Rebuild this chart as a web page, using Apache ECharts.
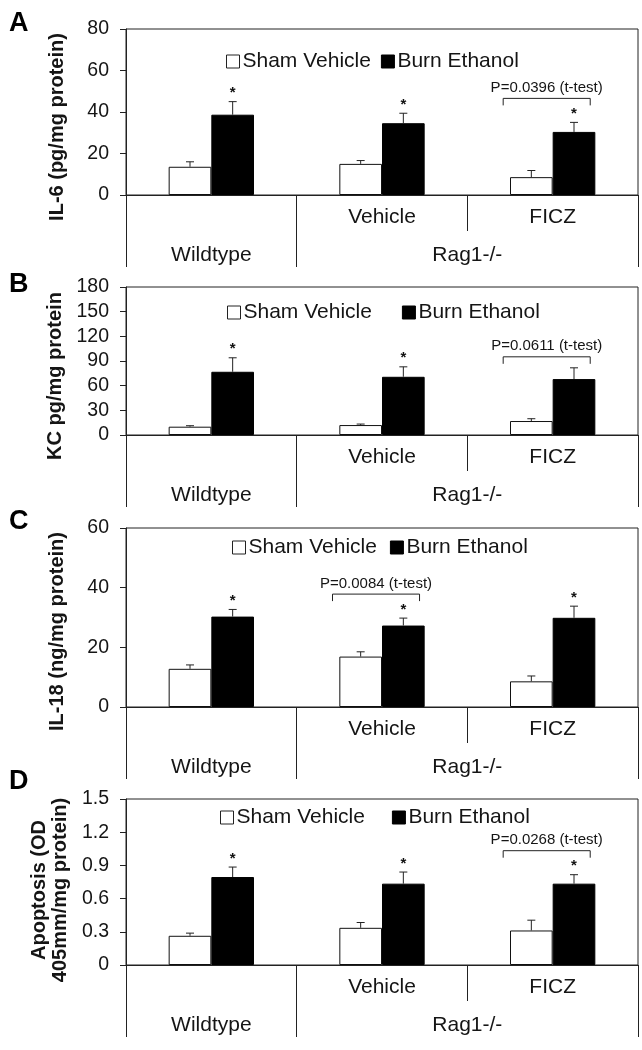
<!DOCTYPE html>
<html>
<head>
<meta charset="utf-8">
<script src="https://cdn.jsdelivr.net/npm/echarts@6/dist/echarts.min.js"></script>
<style>
html,body{margin:0;padding:0;background:#fff;}
#chart{width:642px;height:1050px;}
</style>
</head>
<body>
<div id="chart"></div>
<script>
// ---------- data ----------
const seriesNames = ['Sham Vehicle', 'Burn Ethanol'];
const level1Labels = ['', 'Vehicle', 'FICZ'];
const level2Labels = ['Wildtype', 'Rag1-/-'];
const level2Spans = [1, 2];

const panelLetters = ['A', 'B', 'C', 'D'];
const yNames = ['IL-6 (pg/mg protein)', 'KC pg/mg protein', 'IL-18 (ng/mg protein)', 'Apoptosis (OD\n405mm/mg protein)'];

const ticksA = [0, 20, 40, 60, 80];
const shamA = [13.6, 15.0, 8.6];
const shamErrA = [2.4, 1.6, 3.2];
const burnA = [38.7, 34.6, 30.4];
const burnErrA = [6.3, 4.8, 4.6];
const starsA = [1, 1, 1];
const bracketA = { group: 2, text: 'P=0.0396 (t-test)' };

const ticksB = [0, 30, 60, 90, 120, 150, 180];
const shamB = [10.1, 12.1, 17.0];
const shamErrB = [1.2, 1.2, 2.8];
const burnB = [76.9, 70.8, 68.0];
const burnErrB = [17.0, 12.1, 13.7];
const starsB = [1, 1, 0];
const bracketB = { group: 2, text: 'P=0.0611 (t-test)' };

const ticksC = [0, 20, 40, 60];
const shamC = [12.8, 16.9, 8.6];
const shamErrC = [1.3, 1.6, 1.8];
const burnC = [30.3, 27.3, 29.9];
const burnErrC = [2.4, 2.5, 3.9];
const starsC = [1, 1, 1];
const bracketC = { group: 1, text: 'P=0.0084 (t-test)' };

const ticksD = [0, 0.3, 0.6, 0.9, 1.2, 1.5];
const shamD = [0.264, 0.336, 0.312];
const shamErrD = [0.024, 0.048, 0.093];
const burnD = [0.795, 0.735, 0.735];
const burnErrD = [0.09, 0.105, 0.081];
const starsD = [1, 1, 1];
const bracketD = { group: 2, text: 'P=0.0268 (t-test)' };

const panels = [
  { ticks: ticksA, sham: shamA, shamErr: shamErrA, burn: burnA, burnErr: burnErrA, stars: starsA, bracket: bracketA },
  { ticks: ticksB, sham: shamB, shamErr: shamErrB, burn: burnB, burnErr: burnErrB, stars: starsB, bracket: bracketB },
  { ticks: ticksC, sham: shamC, shamErr: shamErrC, burn: burnC, burnErr: burnErrC, stars: starsC, bracket: bracketC },
  { ticks: ticksD, sham: shamD, shamErr: shamErrD, burn: burnD, burnErr: burnErrD, stars: starsD, bracket: bracketD }
];

// ---------- layout ----------
const FONT = "'Liberation Sans', Arial, Helvetica, sans-serif";
const INK = '#151515';
const gridTops = [29, 287, 528, 799];
const gridHeights = [166, 148, 179, 166];
const legendCenters = [62, 313, 548, 818];
const legendLefts = [226, 227, 232, 220];
const legendGaps = [10, 30, 13, 27];
const titleTops = [5, 266, 503, 763];
const nameGaps = [58, 58, 58, 52];
const namePads = [30, 30, 28, 16];
const GRID_LEFT = 126, GRID_RIGHT = 4;
const LEVEL1_TICK = 36, LEVEL2_TICK = 72;

// level-2 slot axis built from spans
const slotCount = 2 * level2Spans.reduce((a, b) => a + b, 0) + 1;
const level2Slots = new Array(slotCount).fill('');
const boundarySet = new Set([0]);
const labelSet = new Set();
let cum = 0;
level2Spans.forEach((s, i) => {
  level2Slots[2 * cum + s] = level2Labels[i];
  labelSet.add(2 * cum + s);
  cum += s;
  boundarySet.add(2 * cum);
});

const option = {
  backgroundColor: '#fff',
  animation: false,
  textStyle: { fontFamily: FONT, color: INK },
  title: [], grid: [], xAxis: [], yAxis: [], legend: [], series: []
};

panels.forEach((p, k) => {
  const yMin = p.ticks[0], yMax = p.ticks[p.ticks.length - 1];
  const yInt = p.ticks[1] - p.ticks[0];

  option.title.push({
    text: panelLetters[k], left: 4, top: titleTops[k],
    textStyle: { fontFamily: FONT, fontSize: 27, fontWeight: 'bold', color: '#000' }
  });

  option.grid.push({
    left: GRID_LEFT, right: GRID_RIGHT, top: gridTops[k], height: gridHeights[k],
    show: true, borderColor: '#222', borderWidth: 1, backgroundColor: 'transparent'
  });

  option.xAxis.push({
    type: 'category', gridIndex: k, data: level1Labels, position: 'bottom',
    axisLine: { show: true, lineStyle: { color: '#222', width: 1 } },
    axisTick: { show: true, length: LEVEL1_TICK, interval: 0, lineStyle: { color: '#222' } },
    axisLabel: { interval: 0, margin: 12, fontSize: 21, color: INK, fontFamily: FONT }
  });
  option.xAxis.push({
    type: 'category', gridIndex: k, data: level2Slots, boundaryGap: false, position: 'bottom',
    axisLine: { show: false },
    axisTick: { show: true, length: LEVEL2_TICK, interval: (i) => boundarySet.has(i), lineStyle: { color: '#222' } },
    axisLabel: { interval: (i) => labelSet.has(i), margin: 50, fontSize: 21, color: INK, fontFamily: FONT }
  });

  option.yAxis.push({
    type: 'value', gridIndex: k, min: yMin, max: yMax, interval: yInt,
    axisLine: { show: true, lineStyle: { color: '#222', width: 1 } },
    axisTick: { show: true, length: 6, lineStyle: { color: '#222' } },
    splitLine: { show: false },
    axisLabel: { fontSize: 19.5, margin: 17, color: INK, fontFamily: FONT },
    name: yNames[k], nameLocation: 'middle', nameGap: nameGaps[k], nameRotate: 90,
    nameTextStyle: { fontFamily: FONT, fontSize: 20, fontWeight: 'bold', color: INK, lineHeight: 21, padding: [0, namePads[k], 0, 0] }
  });

  option.legend.push({
    top: legendCenters[k] - 11, left: legendLefts[k], padding: 0,
    itemWidth: 13, itemHeight: 13, itemGap: legendGaps[k], icon: 'rect',
    textStyle: { fontFamily: FONT, fontSize: 21, color: INK, padding: [0, 0, 0, -2] },
    selectedMode: false,
    data: [
      { name: seriesNames[0], itemStyle: { color: '#fff', borderColor: '#222', borderWidth: 1 } },
      { name: seriesNames[1], itemStyle: { color: '#000', borderColor: '#000', borderWidth: 1 } }
    ]
  });

  option.series.push({
    name: seriesNames[0], type: 'bar', xAxisIndex: 2 * k, yAxisIndex: k,
    data: p.sham, barGap: '0%', barCategoryGap: '50%',
    itemStyle: { color: '#fff', borderColor: '#111', borderWidth: 1 }
  });
  option.series.push({
    name: seriesNames[1], type: 'bar', xAxisIndex: 2 * k, yAxisIndex: k,
    data: p.burn, barGap: '0%', barCategoryGap: '50%',
    itemStyle: { color: '#000', borderColor: '#000', borderWidth: 1 }
  });

  // error bars + stars
  const errData = [];
  p.sham.forEach((v, i) => errData.push([i, v, p.shamErr[i], -1, 0]));
  p.burn.forEach((v, i) => errData.push([i, v, p.burnErr[i], 1, p.stars[i]]));
  option.series.push({
    type: 'custom', xAxisIndex: 2 * k, yAxisIndex: k, z: 5, silent: true,
    data: errData,
    renderItem: (params, api) => {
      const cat = api.value(0), v = api.value(1), e = api.value(2), side = api.value(3), star = api.value(4);
      const base = api.coord([cat, v]);
      const top = api.coord([cat, v + e]);
      const bw = api.size([1, 0])[0];
      const x = base[0] + side * bw * 0.125;
      const children = [
        { type: 'line', shape: { x1: x, y1: base[1], x2: x, y2: top[1] }, style: { stroke: '#222', lineWidth: 1 } },
        { type: 'line', shape: { x1: x - 4, y1: top[1], x2: x + 4, y2: top[1] }, style: { stroke: '#222', lineWidth: 1 } }
      ];
      if (star) {
        children.push({ type: 'text', style: { text: '*', x: x, y: top[1] - 1, align: 'center', verticalAlign: 'bottom', font: 'bold 15px ' + FONT, fill: '#111' } });
      }
      return { type: 'group', children: children };
    }
  });

  // significance bracket
  const g = p.bracket.group;
  const errTop = Math.max(p.sham[g] + p.shamErr[g], p.burn[g] + p.burnErr[g]);
  option.series.push({
    type: 'custom', xAxisIndex: 2 * k, yAxisIndex: k, z: 5, silent: true,
    data: [[g, errTop, p.stars[g]]],
    renderItem: (params, api) => {
      const c = api.coord([api.value(0), api.value(1)]);
      const bw = api.size([1, 0])[0];
      const y = c[1] - (api.value(2) ? 24 : 11);
      const x1 = c[0] - 0.29 * bw, x2 = c[0] + 0.22 * bw;
      return {
        type: 'group', children: [
          { type: 'polyline', shape: { points: [[x1, y + 7], [x1, y], [x2, y], [x2, y + 7]] }, style: { stroke: '#222', lineWidth: 1, fill: null } },
          { type: 'text', style: { text: p.bracket.text, x: (x1 + x2) / 2, y: y - 3, align: 'center', verticalAlign: 'bottom', font: '15px ' + FONT, fill: INK } }
        ]
      };
    }
  });
});

const chart = echarts.init(document.getElementById('chart'), null, { renderer: 'canvas' });
chart.setOption(option);
</script>
</body>
</html>
